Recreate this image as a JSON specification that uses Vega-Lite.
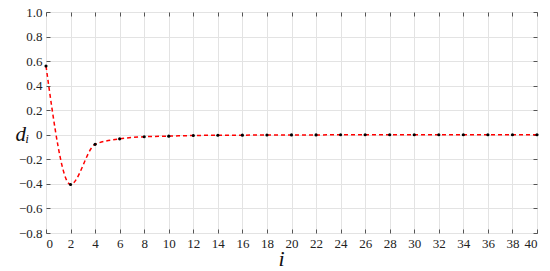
{
  "$schema": "https://vega.github.io/schema/vega-lite/v6.json",
  "width": 491,
  "height": 221,
  "autosize": "none",
  "padding": {"left": 46, "top": 12, "right": 13, "bottom": 38},
  "background": "white",
  "config": {
    "view": {"stroke": "#555555", "strokeWidth": 1},
    "font": "Liberation Serif",
    "axis": {
      "labelFont": "Liberation Serif",
      "labelFontSize": 13,
      "labelColor": "#222222",
      "gridColor": "#e3e3e3",
      "gridWidth": 1,
      "domain": false,
      "tickColor": "#555555",
      "tickSize": -4,
      "titleFont": "Liberation Serif"
    }
  },
  "data": {
    "values": [
      {"i": 0, "d": 0.56},
      {"i": 2, "d": -0.405},
      {"i": 4, "d": -0.078},
      {"i": 6, "d": -0.033},
      {"i": 8, "d": -0.016},
      {"i": 10, "d": -0.011},
      {"i": 12, "d": -0.006},
      {"i": 14, "d": -0.004},
      {"i": 16, "d": -0.003},
      {"i": 18, "d": -0.002},
      {"i": 20, "d": -0.001},
      {"i": 22, "d": -0.001},
      {"i": 24, "d": 0},
      {"i": 26, "d": 0},
      {"i": 28, "d": 0},
      {"i": 30, "d": 0},
      {"i": 32, "d": 0},
      {"i": 34, "d": 0},
      {"i": 36, "d": 0},
      {"i": 38, "d": 0},
      {"i": 40, "d": 0}
    ]
  },
  "layer": [
    {
      "mark": {"type": "line", "color": "#ff0000", "strokeDash": [4, 3], "strokeWidth": 1.5, "interpolate": "monotone"},
      "encoding": {
        "x": {
          "field": "i", "type": "quantitative",
          "scale": {"domain": [0, 40], "nice": false},
          "axis": {"values": [0,2,4,6,8,10,12,14,16,18,20,22,24,26,28,30,32,34,36,38,40], "labelPadding": 8, "title": "i", "titleFontSize": 22, "titleFontStyle": "italic", "titleFontWeight": "normal", "titleBaseline": "bottom", "titleX": 235, "titleY": 37, "titleColor": "#111111"}
        },
        "y": {
          "field": "d", "type": "quantitative",
          "scale": {"domain": [-0.8, 1.0], "nice": false},
          "axis": {"values": [-0.8,-0.6,-0.4,-0.2,0,0.2,0.4,0.6,0.8,1.0], "labelExpr": "datum.value == 0 ? '0' : replace(format(datum.value, '.1f'), '-', '\u2212')", "labelPadding": 8, "title": "dᵢ", "titleAngle": 0, "titleFontSize": 21, "titleFontStyle": "italic", "titleFontWeight": "normal", "titleAlign": "center", "titleBaseline": "middle", "titleX": -24, "titleY": 122, "titleColor": "#111111"}
        }
      }
    },
    {
      "mark": {"type": "point", "filled": true, "color": "#000000", "size": 10, "opacity": 1},
      "encoding": {
        "x": {"field": "i", "type": "quantitative", "axis": {"orient": "top", "values": [0,2,4,6,8,10,12,14,16,18,20,22,24,26,28,30,32,34,36,38,40], "labels": false, "grid": false, "title": null}},
        "y": {"field": "d", "type": "quantitative", "axis": {"orient": "right", "values": [-0.8,-0.6,-0.4,-0.2,0,0.2,0.4,0.6,0.8,1.0], "labels": false, "grid": false, "title": null}}
      }
    }
  ],
  "resolve": {"axis": {"x": "independent", "y": "independent"}}
}
